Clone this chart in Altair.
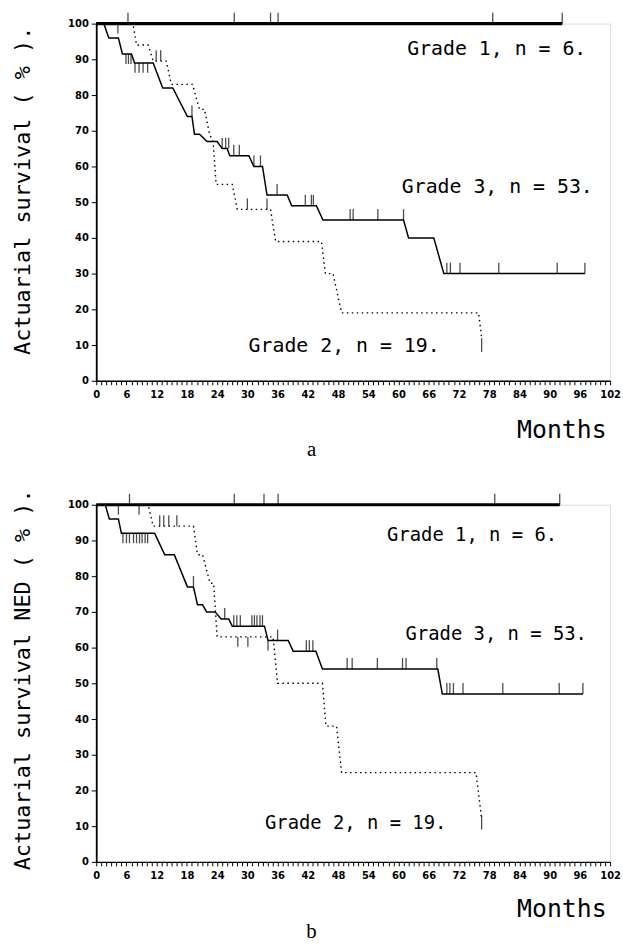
import altair as alt
import pandas as pd

# ---------------- Panel a : actuarial survival ----------------
a_g3_month = [0, 1.5, 2.5, 4.4, 5.2, 7.0, 7.6, 11.3, 13.2, 15.2, 18.1, 19.0, 19.5, 20.5, 22.0, 24.0,
              25.0, 26.0, 26.5, 30.3, 31.3, 33.0, 33.9, 37.9, 38.8, 43.7, 45.0, 61.0, 62.0, 67.0, 69.0, 97.0]
a_g3_surv = [100, 100, 96, 96, 91.5, 91.5, 89, 89, 82, 82, 74, 74, 69, 69, 67, 67,
             65, 65, 63, 63, 60, 60, 52, 52, 49, 49, 45, 45, 40, 40, 30, 30]
a_g3_cens_month = [19.0, 25.0, 25.7, 26.3, 27.3, 28.4, 31.3, 32.6, 35.9, 41.5, 42.7, 43.1,
                   50.4, 51.0, 55.9, 61.0, 69.6, 70.3, 72.2, 79.9, 91.5, 97.0]
a_g3_cens_surv = [74, 65, 65, 65, 63, 63, 60, 60, 52, 49, 49, 49,
                  45, 45, 45, 45, 30, 30, 30, 30, 30, 30]
a_g3_hang_month = [5.9, 6.4, 6.9, 7.7, 8.5, 9.3, 10.2]
a_g3_hang_surv = [91.5, 91.5, 91.5, 89, 89, 89, 89]

a_g2_month = [0, 7.3, 8.0, 10.3, 11.3, 13.9, 14.9, 19.1, 20.5, 21.5, 22.5, 23.2, 23.8, 27.0, 28.0,
              34.6, 35.6, 44.7, 45.5, 47.0, 48.7, 75.9, 76.5]
a_g2_surv = [100, 100, 94, 94, 89.5, 89.5, 83, 83, 76, 76, 69, 67, 55, 55, 48,
             48, 39, 39, 30, 30, 19, 19, 12]
a_g2_cens_month = [11.9, 12.8, 30.0, 33.9]
a_g2_cens_surv = [89.5, 89.5, 48, 48]
a_g2_hang_month = [4.3]
a_g2_hang_surv = [100]
a_g2_end_month = [76.5]
a_g2_end_surv = [10]

a_g1_month = [0, 92.5]
a_g1_surv = [100, 100]
a_g1_cens_month = [6.3, 27.4, 34.6, 36.1, 78.7, 92.5]

a_labels = ["Grade 1,  n = 6.", "Grade 3,  n = 53.", "Grade 2,  n = 19."]
a_label_month = [79.5, 79.6, 49.2]
a_label_surv = [93.0, 54.2, 9.7]

# ---------------- Panel b : actuarial survival NED ----------------
b_g3_month = [0, 1.8, 2.6, 4.4, 5.0, 11.6, 13.6, 15.5, 18.1, 19.3, 20.1, 21.1, 21.9, 23.6, 24.8, 26.3,
              27.0, 33.4, 34.1, 38.1, 39.1, 43.6, 44.9, 67.8, 68.7, 96.6]
b_g3_surv = [100, 100, 96, 96, 92, 92, 86, 86, 77, 77, 72, 72, 70, 70, 68, 68,
             66, 66, 62, 62, 59, 59, 54, 54, 47, 47]
b_g3_cens_month = [19.3, 25.5, 27.3, 27.9, 28.6, 30.9, 31.4, 31.9, 32.5, 33.0, 36.0,
                   41.7, 42.3, 43.0, 49.8, 50.8, 55.8, 60.8, 61.5, 67.6,
                   69.6, 70.2, 70.9, 72.8, 80.7, 91.9, 96.6]
b_g3_cens_surv = [77, 68, 66, 66, 66, 66, 66, 66, 66, 66, 62,
                  59, 59, 59, 54, 54, 54, 54, 54, 54,
                  47, 47, 47, 47, 47, 47, 47]
b_g3_hang_month = [5.3, 6.0, 6.6, 7.4, 8.0, 8.6, 9.1, 9.7, 10.2, 34.1]
b_g3_hang_surv = [92, 92, 92, 92, 92, 92, 92, 92, 92, 62]

b_g2_month = [0, 10.3, 11.3, 19.3, 20.1, 21.1, 22.6, 23.3, 24.0, 35.1, 36.0, 44.9, 45.6, 47.7, 48.7,
              75.4, 76.5]
b_g2_surv = [100, 100, 94, 94, 86, 86, 78, 78, 63, 63, 50, 50, 38, 38, 25,
             25, 12]
b_g2_cens_month = [12.6, 13.4, 14.4, 16.0]
b_g2_cens_surv = [94, 94, 94, 94]
b_g2_hang_month = [4.4, 8.5, 28.1, 30.1]
b_g2_hang_surv = [100, 100, 63, 63]
b_g2_end_month = [76.5]
b_g2_end_surv = [11]

b_g1_month = [0, 92.0]
b_g1_surv = [100, 100]
b_g1_cens_month = [6.6, 27.4, 33.3, 36.1, 79.1, 92.0]

b_labels = ["Grade 1,  n = 6.", "Grade 3,  n = 53.", "Grade 2,  n = 19."]
b_label_month = [74.6, 79.4, 51.5]
b_label_surv = [91.6, 63.8, 10.9]

# ---------------- axes ----------------
x_tick_values = list(range(0, 103))
x_tick_labels = [0, 6, 12, 18, 24, 30, 36, 42, 48, 54, 60, 66, 72, 78, 84, 90, 96, 102]
y_tick_labels = [0, 10, 20, 30, 40, 50, 60, 70, 80, 90, 100]

MONO = "DejaVu Sans Mono"
W, H = 518, 360


def line_df(m, s):
    return pd.DataFrame({"month": m, "surv": s, "i": list(range(len(m)))})


def pts_df(m, s):
    return pd.DataFrame({"month": m, "surv": s})


def panel(d, ytitle, ytitle_y, label_size, letter, months_y, letter_offset):
    xs = alt.Scale(domain=[0, 102], nice=False, zero=False)
    ys = alt.Scale(domain=[0, 100], nice=False)
    xlab = ("indexof([" + ",".join(str(v) for v in x_tick_labels) +
            "], datum.value) >= 0 ? datum.label : ''")
    xax = alt.Axis(values=x_tick_values, tickCount=len(x_tick_values) + 5, labelExpr=xlab,
                   labelOverlap=False, labelFlush=False,
                   tickSize=4, tickColor="black", tickWidth=1, domainColor="black", domainWidth=1.5,
                   labelFont="DejaVu Sans", labelFontWeight="bold", labelFontSize=10, labelColor="black",
                   labelPadding=5, grid=False, title="Months", titleFont=MONO, titleFontSize=25,
                   titleFontWeight="normal", titleColor="black", titleX=W - 4, titleY=months_y,
                   titleAlign="right", titleBaseline="middle", titleAngle=0)
    yax = alt.Axis(values=y_tick_labels, tickCount=len(y_tick_labels) + 2, labelOverlap=False,
                   tickSize=5, tickColor="black", domainColor="black", domainWidth=1.8,
                   labelFont="DejaVu Sans", labelFontWeight="bold", labelFontSize=10, labelColor="black",
                   labelPadding=3, grid=False, title=ytitle, titleFont=MONO, titleFontSize=22,
                   titleFontWeight="normal", titleColor="black", titleX=-74, titleY=ytitle_y,
                   titleAngle=-90, titleAlign="center", titleBaseline="middle")
    X = alt.X("month:Q", scale=xs, axis=xax)
    Y = alt.Y("surv:Q", scale=ys, axis=yax)
    Xn = alt.X("month:Q", scale=xs)
    Yn = alt.Y("surv:Q", scale=ys)

    g3 = alt.Chart(line_df(d["g3m"], d["g3s"])).mark_line(color="black", strokeWidth=1.5).encode(
        x=X, y=Y, order="i:Q")
    g2 = alt.Chart(line_df(d["g2m"], d["g2s"])).mark_line(
        color="black", strokeWidth=1.4, strokeDash=[1.5, 3.5]).encode(x=Xn, y=Yn, order="i:Q")
    g1 = alt.Chart(line_df(d["g1m"], d["g1s"])).mark_line(color="black", strokeWidth=3.2).encode(
        x=Xn, y=Yn, order="i:Q")

    up = pd.concat([pts_df(d["g3cm"], d["g3cs"]), pts_df(d["g2cm"], d["g2cs"]),
                    pts_df(d["g1cm"], [100] * len(d["g1cm"]))])
    down = pd.concat([pts_df(d["g3hm"], d["g3hs"]), pts_df(d["g2hm"], d["g2hs"])])
    mid = pts_df(d["g2em"], d["g2es"])

    t_up = alt.Chart(up).mark_tick(orient="vertical", size=11, thickness=1.3, color="black",
                                   yOffset=-5.5).encode(x=Xn, y=Yn)
    t_down = alt.Chart(down).mark_tick(orient="vertical", size=10, thickness=1.3, color="black",
                                       yOffset=5).encode(x=Xn, y=Yn)
    t_mid = alt.Chart(mid).mark_tick(orient="vertical", size=14, thickness=1.3, color="black").encode(
        x=Xn, y=Yn)

    txt = alt.Chart(pd.DataFrame({"label": d["lab"], "month": d["labm"], "surv": d["labs"]})).mark_text(
        font=MONO, fontSize=label_size, color="black", align="center", baseline="middle").encode(
        x=Xn, y=Yn, text="label:N")

    return alt.layer(g3, g2, g1, t_up, t_down, t_mid, txt).properties(
        width=W, height=H,
        title=alt.TitleParams(letter, orient="bottom", anchor="middle", frame="group", dx=-42,
                              font="Liberation Serif", fontSize=21, fontWeight="normal",
                              color="black", offset=letter_offset))


da = dict(g3m=a_g3_month, g3s=a_g3_surv, g3cm=a_g3_cens_month, g3cs=a_g3_cens_surv,
          g3hm=a_g3_hang_month, g3hs=a_g3_hang_surv,
          g2m=a_g2_month, g2s=a_g2_surv, g2cm=a_g2_cens_month, g2cs=a_g2_cens_surv,
          g2hm=a_g2_hang_month, g2hs=a_g2_hang_surv, g2em=a_g2_end_month, g2es=a_g2_end_surv,
          g1m=a_g1_month, g1s=a_g1_surv, g1cm=a_g1_cens_month,
          lab=a_labels, labm=a_label_month, labs=a_label_surv)
db = dict(g3m=b_g3_month, g3s=b_g3_surv, g3cm=b_g3_cens_month, g3cs=b_g3_cens_surv,
          g3hm=b_g3_hang_month, g3hs=b_g3_hang_surv,
          g2m=b_g2_month, g2s=b_g2_surv, g2cm=b_g2_cens_month, g2cs=b_g2_cens_surv,
          g2hm=b_g2_hang_month, g2hs=b_g2_hang_surv, g2em=b_g2_end_month, g2es=b_g2_end_surv,
          g1m=b_g1_month, g1s=b_g1_surv, g1cm=b_g1_cens_month,
          lab=b_labels, labm=b_label_month, labs=b_label_surv)

top = panel(da, "Actuarial survival ( % ).", 168, 20, "a", 49, -3)
bot = panel(db, "Actuarial survival NED ( % ).", 176, 19, "b", 47, 0)

chart = alt.vconcat(top, bot, spacing=27).properties(
    padding={"left": 11, "top": 8, "right": 2, "bottom": 0}
).configure_view(stroke="black", strokeWidth=1.2).configure(background="white")

chart.save("out.html", embed_options={"renderer": "svg", "actions": False})
